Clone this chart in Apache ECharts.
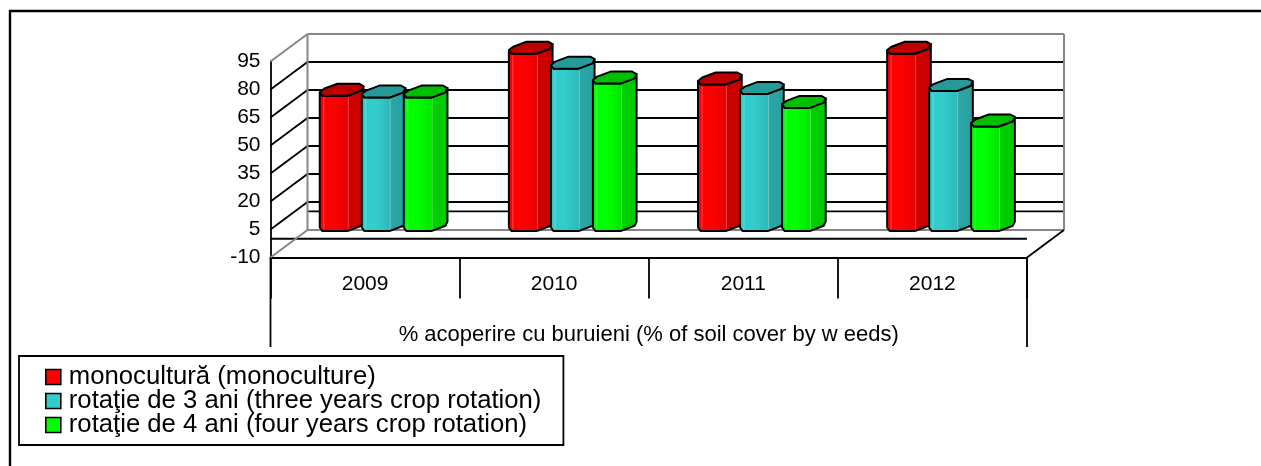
<!DOCTYPE html>
<html>
<head>
<meta charset="utf-8">
<style>html,body{margin:0;padding:0;background:#fff}#chart{width:1261px;height:466px}</style>
<script src="https://cdn.jsdelivr.net/npm/echarts@6/dist/echarts.min.js"></script>
</head>
<body>
<div id="chart"></div>
<script>
// Weed cover by rotation system, 2009-2012
const years = ['2009', '2010', '2011', '2012'];
const yTicks = [-10, 5, 20, 35, 50, 65, 80, 95];
const monoculture = [72.5, 95, 78.5, 95];
const rotation3 = [71.5, 87, 73.5, 75];
const rotation4 = [71.5, 79, 66, 56];
const seriesNames = [
  'monocultură (monoculture)',
  'rotaţie de 3 ani (three years crop rotation)',
  'rotaţie de 4 ani (four years crop rotation)'
];
const axisTitle = '% acoperire cu buruieni (% of soil cover by w eeds)';

// Oblique projection of the box: how far the back wall sits from the front plane
const DEPTH_X = 37, DEPTH_Y = -27.5;
// Horizontal pitch between neighbouring prisms in one year
const PITCH = 42;
// Octagonal section of a prism, relative to its centre
const SECTION = [[-21.8, 2.4], [-19.1, 6], [5.9, 6], [19.9, 0.7], [21.9, -3.6], [17.5, -6], [-4.1, -6], [-17.5, -1]];

function shade(hex, k) {
  const n = parseInt(hex.slice(1), 16);
  const c = [n >> 16, (n >> 8) & 255, n & 255].map(v => Math.round(v * k));
  return 'rgb(' + c.join(',') + ')';
}

// Back wall, side wall and floor of the box
function renderBox(params, api) {
  const size = api.size([1, 0])[0];
  const xL = api.coord([0, 0])[0] - size / 2, xR = xL + size * years.length;
  const at = (x, v, depth) => [x + depth * DEPTH_X, api.coord([0, v])[1] + depth * DEPTH_Y];
  const line = (a, b, color, w) => ({
    type: 'line', silent: true,
    shape: { x1: a[0], y1: a[1], x2: b[0], y2: b[1] },
    style: { stroke: color, lineWidth: w }
  });
  const kids = [];
  const top = yTicks[yTicks.length - 1], low = yTicks[0];
  yTicks.slice(1, -1).forEach(v => {
    kids.push(line(at(xL, v, 1), at(xR, v, 1), '#000', 1.8));
    kids.push(line(at(xL, v, 0), at(xL, v, 1), '#000', 1.8));
  });
  // zero plane: its trace on the back wall and along the front
  kids.push(line(at(xL, 0, 1), at(xR, 0, 1), '#000', 1.8));
  kids.push(line(at(xL, 0, 0), at(xR, 0, 0), '#000', 2));
  const gray = '#868686';
  kids.push(line(at(xL, top, 1), at(xR, top, 1), gray, 2));
  kids.push(line(at(xL, top, 0), at(xL, top, 1), gray, 2));
  kids.push(line(at(xL, top, 1), at(xL, low, 1), gray, 2));
  kids.push(line(at(xR, top, 1), at(xR, low, 1), gray, 2));
  kids.push(line(at(xL, low, 1), at(xR, low, 1), gray, 2));
  kids.push(line(at(xL, low, 0), at(xL, low, 1), gray, 2));
  kids.push(line(at(xR, low, 0), at(xR, low, 1), '#000', 1.8));
  // outer brackets of the two-level category axis
  kids.push(line(at(xL, low, 0), [xL, 347], '#000', 1.8));
  kids.push(line(at(xR, low, 0), [xR, 347], '#000', 1.8));
  return { type: 'group', children: kids };
}

// One octagonal prism, standing on zero at mid-depth of the box
function prismRenderer(seriesIndex, color) {
  return function (params, api) {
    const cat = api.value(0), val = api.value(1);
    const head = api.coord([cat, val]), foot = api.coord([cat, 0]);
    const cx = head[0] + (seriesIndex - 1) * PITCH + DEPTH_X / 2;
    const yTop = head[1] + DEPTH_Y / 2, yBase = foot[1] + DEPTH_Y / 2;
    const topPts = SECTION.map(p => [cx + p[0], yTop + p[1]]);
    const basePts = SECTION.map(p => [cx + p[0], yBase + p[1]]);
    const body = [topPts[0], topPts[1], topPts[2], topPts[3], topPts[4],
                  basePts[4], basePts[3], basePts[2], basePts[1], basePts[0]];
    const x0 = cx - 21.8, w = 43.7;
    const stop = px => px / w;
    const fill = {
      type: 'linear', x: 0, y: 0, x2: 1, y2: 0,
      colorStops: [
        { offset: 0, color: shade(color, 0.97) },
        { offset: stop(4), color: shade(color, 1) },
        { offset: stop(14), color: shade(color, 1) },
        { offset: stop(28), color: shade(color, 0.9) },
        { offset: stop(28.5), color: shade(color, 0.82) },
        { offset: 1, color: shade(color, 0.78) }
      ]
    };
    const seam = px => ({
      type: 'line', silent: true,
      shape: { x1: x0 + px, y1: yTop + 7, x2: x0 + px, y2: yBase + 4 },
      style: { stroke: 'rgba(255,255,255,0.28)', lineWidth: 1 }
    });
    return {
      type: 'group',
      children: [
        { type: 'polygon', shape: { points: body }, style: { fill: fill, stroke: '#000', lineWidth: 2, lineJoin: 'round' } },
        seam(4), seam(28.5),
        { type: 'polygon', shape: { points: topPts }, style: { fill: shade(color, 0.75), stroke: '#000', lineWidth: 2, lineJoin: 'round' } }
      ]
    };
  };
}

const palette = ['#ff0000', '#33cccc', '#00ff00'];
const rows = [monoculture, rotation3, rotation4];

const chart = echarts.init(document.getElementById('chart'), null, { renderer: 'canvas' });
chart.setOption({
  animation: false,
  backgroundColor: '#fff',
  textStyle: { fontFamily: '"Liberation Sans", Arial, sans-serif', color: '#000' },
  grid: { left: 270.5, right: 234, top: 61.5, bottom: 208.5, containLabel: false },
  xAxis: {
    type: 'category',
    data: years,
    position: 'bottom',
    axisLine: { show: true, onZero: false, lineStyle: { color: '#000', width: 1.8 } },
    axisTick: { show: true, alignWithLabel: false, length: 41, lineStyle: { color: '#000', width: 1.8 }, interval: 0 },
    axisLabel: { show: true, margin: 16, fontSize: 21, color: '#000', interval: 0 },
    splitLine: { show: false },
    name: axisTitle,
    nameLocation: 'middle',
    nameGap: 66,
    nameTextStyle: { fontSize: 22, color: '#000' }
  },
  yAxis: {
    type: 'value',
    min: -10,
    max: 95,
    axisLine: { show: true, onZero: false, lineStyle: { color: '#000', width: 1.8 } },
    axisTick: { show: false },
    splitLine: { show: false },
    axisLabel: { margin: 10, fontSize: 21, color: '#000', customValues: yTicks, padding: [2, 0, 0, 0] }
  },
  legend: {
    orient: 'vertical',
    left: 19,
    top: 356,
    padding: [8, 22, 7, 26],
    itemGap: -2,
    itemWidth: 15,
    itemHeight: 15,
    icon: 'rect',
    borderColor: '#000',
    borderWidth: 1.8,
    backgroundColor: '#fff',
    selectedMode: false,
    itemStyle: { borderColor: '#000', borderWidth: 1.6 },
    textStyle: { fontSize: 25.7, color: '#000', lineHeight: 24, padding: [0, 0, 0, 3] },
    data: seriesNames
  },
  graphic: [
    {
      type: 'line', silent: true, z: -1,
      shape: { x1: 9, y1: 11, x2: 1261, y2: 11 },
      style: { stroke: '#000', lineWidth: 2.4 }
    },
    {
      type: 'line', silent: true, z: -1,
      shape: { x1: 10, y1: 10, x2: 10, y2: 466 },
      style: { stroke: '#000', lineWidth: 2.4 }
    }
  ],
  series: [
    { type: 'custom', name: 'box', silent: true, z: 1, renderItem: renderBox, data: [[0, 0]], encode: { x: 0, y: 1 }, clip: false }
  ].concat(rows.map((vals, i) => ({
    type: 'custom',
    name: seriesNames[i],
    z: 2 + i,
    clip: false,
    itemStyle: { color: palette[i] },
    renderItem: prismRenderer(i, palette[i]),
    encode: { x: 0, y: 1 },
    data: vals.map((v, j) => [j, v])
  })))
});
</script>
</body>
</html>
